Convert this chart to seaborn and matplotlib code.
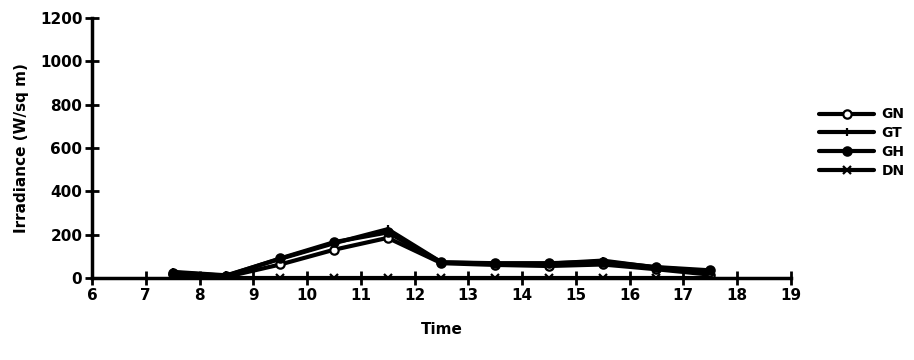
import pandas as pd
import numpy as np
import matplotlib
matplotlib.use('Agg')
import matplotlib.pyplot as plt
import seaborn as sns

sns.set_style('ticks')
plt.rcParams['font.family'] = ['DejaVu Sans']
plt.rcParams['text.color'] = 'black'
plt.rcParams['axes.labelcolor'] = 'black'
plt.rcParams['xtick.color'] = 'black'
plt.rcParams['ytick.color'] = 'black'
plt.rcParams['axes.edgecolor'] = 'black'

# data
time = [7.5, 8.5, 9.5, 10.5, 11.5, 12.5, 13.5, 14.5, 15.5, 16.5, 17.5]
gn = [20, 5, 62, 130, 185, 68, 60, 55, 62, 40, 15]
gt = [28, 12, 88, 160, 225, 72, 66, 66, 80, 48, 30]
gh = [25, 10, 90, 165, 210, 72, 68, 68, 75, 50, 35]
dn = [0, 0, 0, 0, 0, 0, 0, 0, 0, 0, 0]
series = ['GN', 'GT', 'GH', 'DN']
markers = {'GN': 'o', 'GT': '|', 'GH': 'o', 'DN': 'x'}
facecol = {'GN': 'white', 'GT': 'black', 'GH': 'black', 'DN': 'black'}

df = pd.DataFrame({'Time': time, 'GN': gn, 'GT': gt, 'GH': gh, 'DN': dn})
long = df.melt(id_vars='Time', var_name='series', value_name='Irradiance')

fig = plt.figure(figsize=(9.14, 3.6), dpi=100)
ax = fig.add_axes([0.1007, 0.228, 0.7646, 0.722])

for s in series:
    sub = long[long['series'] == s]
    sns.lineplot(data=sub, x='Time', y='Irradiance', ax=ax, color='black',
                 linewidth=3, marker=markers[s], markersize=6,
                 markerfacecolor=facecol[s], markeredgecolor='black',
                 markeredgewidth=1.6, label=s)

ax.set_xlim(6, 19)
ax.set_ylim(0, 1200)
ax.set_xticks(range(6, 20))
ax.set_yticks(range(0, 1201, 200))
ax.spines['top'].set_visible(False)
ax.spines['right'].set_visible(False)
ax.spines['left'].set_linewidth(2.5)
ax.spines['bottom'].set_linewidth(2.5)
ax.tick_params(axis='both', direction='inout', length=10, width=2,
               labelsize=11, pad=2)
for lab in ax.get_xticklabels() + ax.get_yticklabels():
    lab.set_fontweight('bold')

ax.set_xlabel('Time', fontsize=11, fontweight='bold', labelpad=14)
ax.set_ylabel('Irradiance (W/sq m)', fontsize=11, fontweight='bold', labelpad=8)

leg = ax.legend(loc='center left', bbox_to_anchor=(1.04, 0.52), frameon=False,
                borderaxespad=0, borderpad=0,
                handlelength=4, labelspacing=0.35, handletextpad=0.5,
                prop={'weight': 'bold', 'size': 10})

fig.savefig('out.png', dpi=100)
